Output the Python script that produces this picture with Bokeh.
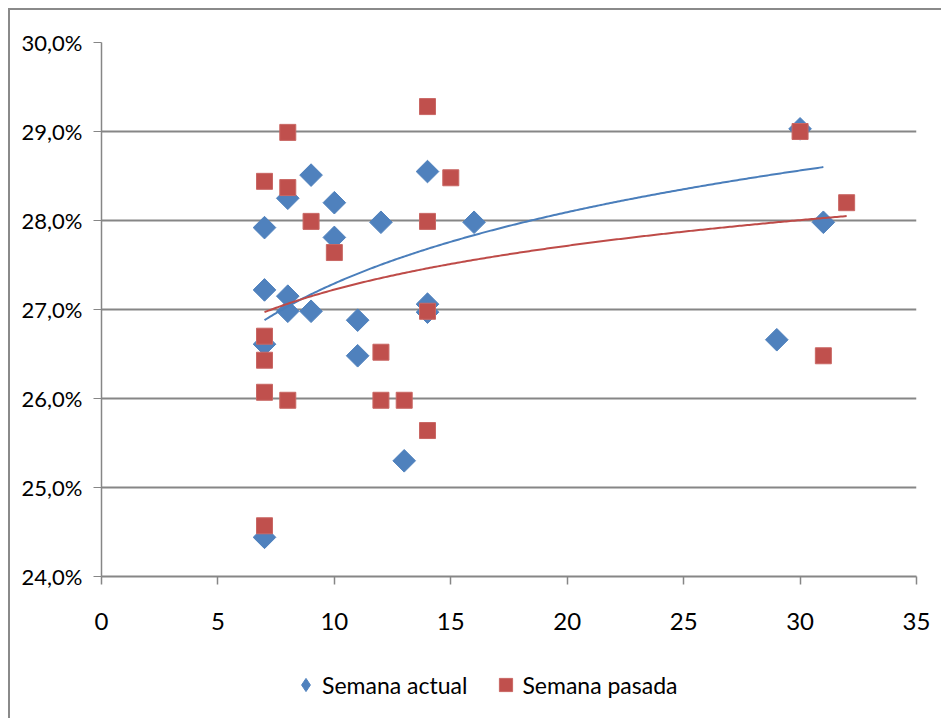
import numpy as np
from bokeh.plotting import figure
from bokeh.layouts import column
from bokeh.models import FixedTicker, Legend, LegendItem
from bokeh.embed import file_html
from bokeh.resources import INLINE

# ---- data ----
series_names = ["Semana actual", "Semana pasada"]

x_actual = [7, 7, 7, 7, 8, 8, 8, 9, 9, 10, 10, 11, 11, 12, 13, 14, 14, 14, 16, 29, 30, 31]
y_actual = [24.44, 26.61, 27.22, 27.92, 28.25, 27.15, 26.98, 28.51, 26.98, 28.20, 27.81,
            26.88, 26.48, 27.98, 25.30, 28.55, 27.06, 26.97, 27.98, 26.66, 29.03, 27.98]

x_pasada = [7, 7, 7, 7, 7, 8, 8, 8, 9, 10, 12, 12, 13, 14, 14, 14, 14, 15, 30, 31, 32]
y_pasada = [24.57, 26.07, 26.43, 26.70, 28.44, 28.99, 28.37, 25.98, 27.99, 27.64, 26.52,
            25.98, 25.98, 29.28, 27.99, 26.98, 25.64, 28.48, 29.00, 26.48, 28.20]

# logarithmic trendlines: end values
trend_x_actual = [7, 31]
trend_y_actual = [26.88, 28.60]
trend_x_pasada = [7, 32]
trend_y_pasada = [26.97, 28.05]

x_ticks = [0, 5, 10, 15, 20, 25, 30, 35]
y_ticks = [24, 25, 26, 27, 28, 29, 30]
y_tick_labels = ["24,0%", "25,0%", "26,0%", "27,0%", "28,0%", "29,0%", "30,0%"]

BLUE = "#4F81BD"
RED = "#C0504D"
GRID = "#868686"
FRAME = "#8a8a8a"
FONT = "Lato"


def log_curve(xe, ye, n=300):
    a = (ye[1] - ye[0]) / np.log(xe[1] / xe[0])
    xx = np.linspace(xe[0], xe[1], n)
    return xx, ye[0] + a * np.log(xx / xe[0])


# ---------------- main chart ----------------
p = figure(width=933, height=640, x_range=(0, 35), y_range=(24, 30),
           output_backend="svg", toolbar_location=None,
           min_border_left=91, min_border_right=27, min_border_top=32, min_border_bottom=74)
p.styles = {"border-left": f"2px solid {FRAME}", "border-top": f"2px solid {FRAME}"}
p.outline_line_color = None
p.background_fill_color = "white"
p.border_fill_color = "white"

p.scatter(x_actual, y_actual, marker="square", angle=np.pi / 4, size=16,
          fill_color=BLUE, line_color=BLUE)
p.scatter(x_pasada, y_pasada, marker="square", size=16,
          fill_color=RED, line_color="#C96764", line_width=1)

tx1, ty1 = log_curve(trend_x_actual, trend_y_actual)
tx2, ty2 = log_curve(trend_x_pasada, trend_y_pasada)
p.line(tx1, ty1, line_color="#4A7EBB", line_width=2)
p.line(tx2, ty2, line_color="#BE4B48", line_width=2)

p.xaxis.ticker = FixedTicker(ticks=x_ticks)
p.yaxis.ticker = FixedTicker(ticks=y_ticks)
p.yaxis.major_label_overrides = {t: l for t, l in zip(y_ticks, y_tick_labels)}
p.axis.minor_tick_line_color = None
p.axis.axis_line_color = GRID
p.axis.major_tick_line_color = GRID
p.axis.major_tick_in = 0
p.axis.major_tick_out = 8
p.xaxis.axis_line_width = 2
p.xaxis.major_tick_line_width = 1.5
p.yaxis.axis_line_width = 1.5
p.axis.major_label_text_font = FONT
p.axis.major_label_text_color = "black"
p.xaxis.major_label_text_font_size = "24px"
p.yaxis.major_label_text_font_size = "22px"
p.xaxis.major_label_standoff = 28
p.yaxis.major_label_standoff = 11

p.xgrid.grid_line_color = None
p.ygrid.grid_line_color = GRID
p.ygrid.grid_line_width = 2

# ---------------- legend strip ----------------
q = figure(width=933, height=70, x_range=(0, 1), y_range=(0, 1),
           output_backend="svg", toolbar_location=None, min_border=0)
q.styles = {"border-left": f"2px solid {FRAME}"}
q.xaxis.visible = False
q.yaxis.visible = False
q.grid.visible = False
q.outline_line_color = None
q.background_fill_color = "white"
q.border_fill_color = "white"

# legend swatches: first data point of each series, which falls outside this strip's ranges
k1 = q.scatter(x_actual[:1], y_actual[:1], marker="diamond", size=16,
               fill_color=BLUE, line_color=BLUE)
k2 = q.scatter(x_pasada[:1], y_pasada[:1], marker="square", size=16,
               fill_color=RED, line_color="#C96764")

legend = Legend(items=[LegendItem(label=series_names[0], renderers=[k1]),
                       LegendItem(label=series_names[1], renderers=[k2])],
                orientation="horizontal", location=(188, 17),
                glyph_width=33, glyph_height=33, label_standoff=-3, spacing=22,
                border_line_color=None, background_fill_alpha=0,
                padding=0, margin=0,
                label_text_font=FONT, label_text_font_size="23px",
                label_text_color="black")
q.add_layout(legend, "center")

lay = column(p, q, spacing=0,
             styles={"padding-left": "8px", "padding-top": "8px", "background-color": "white"})

open("out.html", "w").write(file_html(lay, INLINE))
